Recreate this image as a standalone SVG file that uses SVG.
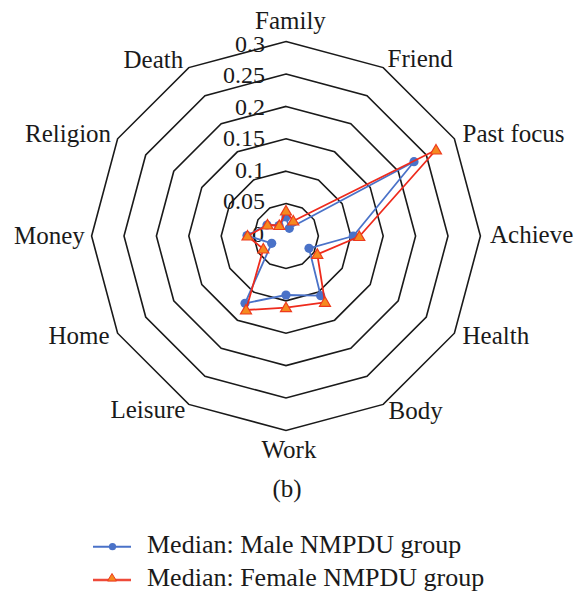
<svg xmlns="http://www.w3.org/2000/svg" width="574" height="596" viewBox="0 0 574 596">
<style>
.ring{fill:none;stroke:#1a1a1a;stroke-width:1.6;stroke-linejoin:miter}
.lbl{font-family:"Liberation Serif","Times New Roman",serif;font-size:25px;fill:#1a1a1a}
.tick{font-family:"Liberation Serif","Times New Roman",serif;font-size:24px;fill:#1a1a1a;text-anchor:end}
.leg{font-family:"Liberation Serif","Times New Roman",serif;font-size:26px;fill:#1a1a1a}
.male{fill:none;stroke:#4a72c8;stroke-width:1.8;stroke-linejoin:round}
.female{fill:none;stroke:#ee2a1c;stroke-width:1.8;stroke-linejoin:round}
</style>
<defs>
<marker id="mc" markerUnits="userSpaceOnUse" markerWidth="12" markerHeight="12" refX="6" refY="6" overflow="visible">
<circle cx="6" cy="6" r="4.6" fill="#4a72c8"/>
</marker>
<marker id="mt" markerUnits="userSpaceOnUse" markerWidth="14" markerHeight="14" refX="7" refY="7" overflow="visible">
<polygon points="7,1.5 12.5,11 1.5,11" fill="#f58a1f" stroke="#ee3a1c" stroke-width="1.2" stroke-linejoin="miter"/>
</marker>
</defs>
<g id="rings">
<polygon class="ring" points="286,203.6 302.2,207.94 314.06,219.8 318.4,236 314.06,252.2 302.2,264.06 286,268.4 269.8,264.06 257.94,252.2 253.6,236 257.94,219.8 269.8,207.94"/>
<polygon class="ring" points="286,171.2 318.4,179.88 342.12,203.6 350.8,236 342.12,268.4 318.4,292.12 286,300.8 253.6,292.12 229.88,268.4 221.2,236 229.88,203.6 253.6,179.88"/>
<polygon class="ring" points="286,138.8 334.6,151.82 370.18,187.4 383.2,236 370.18,284.6 334.6,320.18 286,333.2 237.4,320.18 201.82,284.6 188.8,236 201.82,187.4 237.4,151.82"/>
<polygon class="ring" points="286,106.4 350.8,123.77 398.23,171.2 415.6,236 398.23,300.8 350.8,348.23 286,365.6 221.2,348.23 173.77,300.8 156.4,236 173.77,171.2 221.2,123.77"/>
<polygon class="ring" points="286,74 367,95.71 426.29,155 448,236 426.29,317 367,376.29 286,398 205,376.29 145.71,317 124,236 145.71,155 205,95.71"/>
<polygon class="ring" points="286,41.6 383.2,67.6 454.4,138.8 480.4,236 454.4,333.2 383.2,404.4 286,430.4 188.8,404.4 117.6,333.2 91.6,236 117.6,138.8 188.8,67.6"/>
</g>
<g id="ticks">
<text class="tick" x="265" y="52">0.3</text>
<text class="tick" x="265" y="83">0.25</text>
<text class="tick" x="265" y="114.5">0.2</text>
<text class="tick" x="265" y="146">0.15</text>
<text class="tick" x="265" y="177.5">0.1</text>
<text class="tick" x="265" y="209">0.05</text>
<text class="tick" x="264" y="241.5">0</text>
</g>
<g id="axis-labels">
<text class="lbl" x="255" y="28.5">Family</text>
<text class="lbl" x="387.5" y="67">Friend</text>
<text class="lbl" x="462.5" y="142">Past focus</text>
<text class="lbl" x="490" y="243">Achieve</text>
<text class="lbl" x="462.5" y="343.5">Health</text>
<text class="lbl" x="388.5" y="418.5">Body</text>
<text class="lbl" x="261.5" y="457.5">Work</text>
<text class="lbl" x="110.5" y="417.5">Leisure</text>
<text class="lbl" x="48.5" y="343.5">Home</text>
<text class="lbl" x="14" y="243.5">Money</text>
<text class="lbl" x="25" y="142">Religion</text>
<text class="lbl" x="123.5" y="67.5">Death</text>
</g>
<g id="series-male">
<polygon class="male" marker-start="url(#mc)" marker-mid="url(#mc)" points="286,217 289.3,228.3 414,161.7 353.3,236 309,248.3 320.7,295.7 286,295 245,303.3 271.7,243.3 247,235.5 267,225 279,225.5"/>
</g>
<g id="series-female">
<polygon class="female" marker-start="url(#mt)" marker-mid="url(#mt)" points="286,211 293.3,221 436,150 359.3,236.5 317.3,254.3 325,302.3 286,307.7 246,310 263.3,249 247.5,236 267.5,225 279.3,225.5"/>
</g>
<text class="lbl" x="272.5" y="497">(b)</text>
<g id="legend">
<line x1="93" y1="546.7" x2="131" y2="546.7" stroke="#4a72c8" stroke-width="2"/>
<circle cx="112.5" cy="546.7" r="3.6" fill="#4a72c8"/>
<text class="leg" x="147" y="553">Median: Male NMPDU group</text>
<line x1="93" y1="580" x2="131" y2="580" stroke="#ee4a3a" stroke-width="2.4"/>
<polygon points="112,573.5 116.5,581 107.5,581" fill="#f58a1f" stroke="#ee3a1c" stroke-width="1"/>
<text class="leg" x="147" y="586">Median: Female NMPDU group</text>
</g>
</svg>
